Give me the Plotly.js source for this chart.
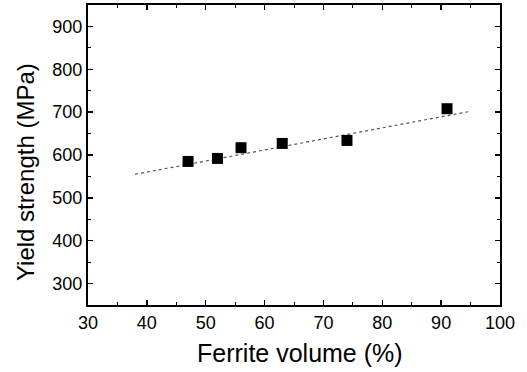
<!DOCTYPE html>
<html>
<head>
<meta charset="utf-8">
<script src="https://cdn.plot.ly/plotly-3.0.1.min.js"></script>
<style>html,body{margin:0;padding:0;background:#fff;}#chart{width:527px;height:372px;}</style>
</head>
<body>
<div id="chart"></div>
<script>
var ferriteVolume = [47, 52, 56, 63, 74, 91];
var yieldStrength = [585, 592, 617, 627, 634, 708];
var fitX = [38, 95];
var fitY = [555, 702];
var xTicks = [30, 40, 50, 60, 70, 80, 90, 100];
var yTicks = [300, 400, 500, 600, 700, 800, 900];
var xTitle = 'Ferrite volume (%)';
var yTitle = 'Yield strength (MPa)';

var FONT = 'Liberation Sans, Arial, sans-serif';

var traces = [
  {
    x: fitX, y: fitY, mode: 'lines', type: 'scatter',
    line: {color: '#555', width: 1.2, dash: 'dot'},
    hoverinfo: 'skip', showlegend: false
  },
  {
    x: ferriteVolume, y: yieldStrength, mode: 'markers', type: 'scatter',
    marker: {symbol: 'square', size: 11, color: '#000'},
    showlegend: false
  }
];

var axisCommon = {
  showgrid: false, zeroline: false, showline: true, linecolor: '#000', linewidth: 2,
  mirror: 'ticks', ticks: 'inside', ticklen: 5, tickwidth: 1.5, tickcolor: '#000',
  tickfont: {family: FONT, size: 18, color: '#000'}, automargin: false
};

var layout = {
  width: 527, height: 372,
  margin: {l: 88, r: 27, t: 5, b: 67},
  paper_bgcolor: '#fff', plot_bgcolor: '#fff',
  xaxis: Object.assign({}, axisCommon, {
    range: [30, 100], tickvals: xTicks, ticktext: xTicks.map(String),
    minor: {dtick: 5, tick0: 30, ticks: 'inside', ticklen: 3, tickwidth: 1, tickcolor: '#000'}
  }),
  yaxis: Object.assign({}, axisCommon, {
    range: [250, 950], tickvals: yTicks, ticktext: yTicks.map(String),
    minor: {dtick: 50, tick0: 250, ticks: 'inside', ticklen: 3, tickwidth: 1, tickcolor: '#000'}
  }),
  annotations: [
    {text: xTitle, xref: 'paper', yref: 'paper', x: 0.5146, y: -0.16, xanchor: 'center', yanchor: 'middle',
     showarrow: false, font: {family: FONT, size: 25, color: '#000'}},
    {text: yTitle, xref: 'paper', yref: 'paper', x: -0.153, y: 0.443, xanchor: 'center', yanchor: 'middle',
     textangle: -90, showarrow: false, font: {family: FONT, size: 24, color: '#000'}}
  ]
};

Plotly.newPlot('chart', traces, layout, {displayModeBar: false, staticPlot: true});
</script>
</body>
</html>
